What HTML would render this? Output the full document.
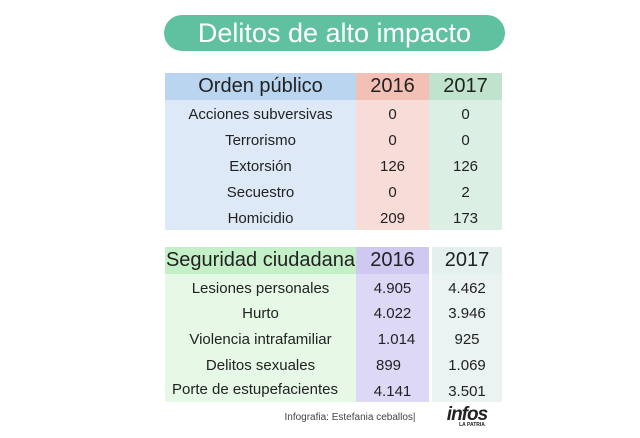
<!DOCTYPE html><html><head><style>
body{margin:0;width:640px;height:438px;background:#fff;position:relative;font-family:"Liberation Sans",sans-serif;color:#222;overflow:hidden}
.a{position:absolute;display:flex;align-items:center;justify-content:center;white-space:nowrap}
</style></head><body>
<div class="a" style="left:164px;top:15px;width:341px;height:36px;background:#5fc1a0;border-radius:18px;color:#fff;font-size:27px">Delitos de alto impacto</div>

<div class="a" style="left:165px;top:73px;width:191px;height:27px;background:#b9d5f0;font-size:20px">Orden público</div>
<div class="a" style="left:356px;top:73px;width:73px;height:27px;background:#f2c0b4;font-size:20px">2016</div>
<div class="a" style="left:429px;top:73px;width:73px;height:27px;background:#bfe3cc;font-size:20px">2017</div>
<div style="position:absolute;left:165px;top:100px;width:191px;height:130px;background:#dde9f6"></div>
<div style="position:absolute;left:356px;top:100px;width:73px;height:130px;background:#f8dcd8"></div>
<div style="position:absolute;left:429px;top:100px;width:73px;height:130px;background:#dcefe4"></div>

<div class="a" style="left:165px;top:366px;width:0"></div>

<div id="t1"></div>

<div class="a" style="left:165px;top:247px;width:191px;height:27px;background:#c4f0c8;font-size:20px">Seguridad ciudadana</div>
<div class="a" style="left:356px;top:247px;width:73px;height:27px;background:#cfc8f0;font-size:20px">2016</div>
<div class="a" style="left:432px;top:247px;width:70px;height:27px;background:#e3f0ee;font-size:20px">2017</div>
<div style="position:absolute;left:165px;top:274px;width:191px;height:128px;background:#e6f8e6"></div>
<div style="position:absolute;left:356px;top:274px;width:73px;height:128px;background:#dcd8f5"></div>
<div style="position:absolute;left:432px;top:274px;width:70px;height:128px;background:#eaf3f1"></div>

<div style="font-size:15px">
<div class="a" style="left:165px;top:104px;width:191px;height:20px">Acciones subversivas</div>
<div class="a" style="left:356px;top:104px;width:73px;height:20px">0</div>
<div class="a" style="left:429px;top:104px;width:73px;height:20px">0</div>
<div class="a" style="left:165px;top:130px;width:191px;height:20px">Terrorismo</div>
<div class="a" style="left:356px;top:130px;width:73px;height:20px">0</div>
<div class="a" style="left:429px;top:130px;width:73px;height:20px">0</div>
<div class="a" style="left:165px;top:156px;width:191px;height:20px">Extorsión</div>
<div class="a" style="left:356px;top:156px;width:73px;height:20px">126</div>
<div class="a" style="left:429px;top:156px;width:73px;height:20px">126</div>
<div class="a" style="left:165px;top:182px;width:191px;height:20px">Secuestro</div>
<div class="a" style="left:356px;top:182px;width:73px;height:20px">0</div>
<div class="a" style="left:429px;top:182px;width:73px;height:20px">2</div>
<div class="a" style="left:165px;top:208px;width:191px;height:20px">Homicidio</div>
<div class="a" style="left:356px;top:208px;width:73px;height:20px">209</div>
<div class="a" style="left:429px;top:208px;width:73px;height:20px">173</div>

<div class="a" style="left:165px;top:278px;width:191px;height:20px">Lesiones personales</div>
<div class="a" style="left:356px;top:278px;width:73px;height:20px">4.905</div>
<div class="a" style="left:432px;top:278px;width:70px;height:20px">4.462</div>
<div class="a" style="left:165px;top:303px;width:191px;height:20px">Hurto</div>
<div class="a" style="left:356px;top:303px;width:73px;height:20px">4.022</div>
<div class="a" style="left:432px;top:303px;width:70px;height:20px">3.946</div>
<div class="a" style="left:165px;top:329px;width:191px;height:20px">Violencia intrafamiliar</div>
<div class="a" style="left:360px;top:329px;width:73px;height:20px">1.014</div>
<div class="a" style="left:432px;top:329px;width:70px;height:20px">925</div>
<div class="a" style="left:165px;top:355px;width:191px;height:20px">Delitos sexuales</div>
<div class="a" style="left:352px;top:355px;width:73px;height:20px">899</div>
<div class="a" style="left:432px;top:355px;width:70px;height:20px">1.069</div>
<div class="a" style="left:165px;top:379px;width:180px;height:20px">Porte de estupefacientes</div>
<div class="a" style="left:356px;top:381px;width:73px;height:20px">4.141</div>
<div class="a" style="left:432px;top:381px;width:70px;height:20px">3.501</div>
</div>

<div class="a" style="left:280px;top:410px;width:140px;height:14px;font-size:10px;color:#444">Infografia: Estefania ceballos|</div>
<div class="a" style="left:430px;top:407px;width:74px;height:16px;font-size:19px;font-weight:bold;font-style:italic;color:#222;letter-spacing:-1px">infos</div>
<div class="a" style="left:452px;top:422px;width:40px;height:6px;font-size:5px;font-weight:bold;color:#222">LA PATRIA</div>
</body></html>
